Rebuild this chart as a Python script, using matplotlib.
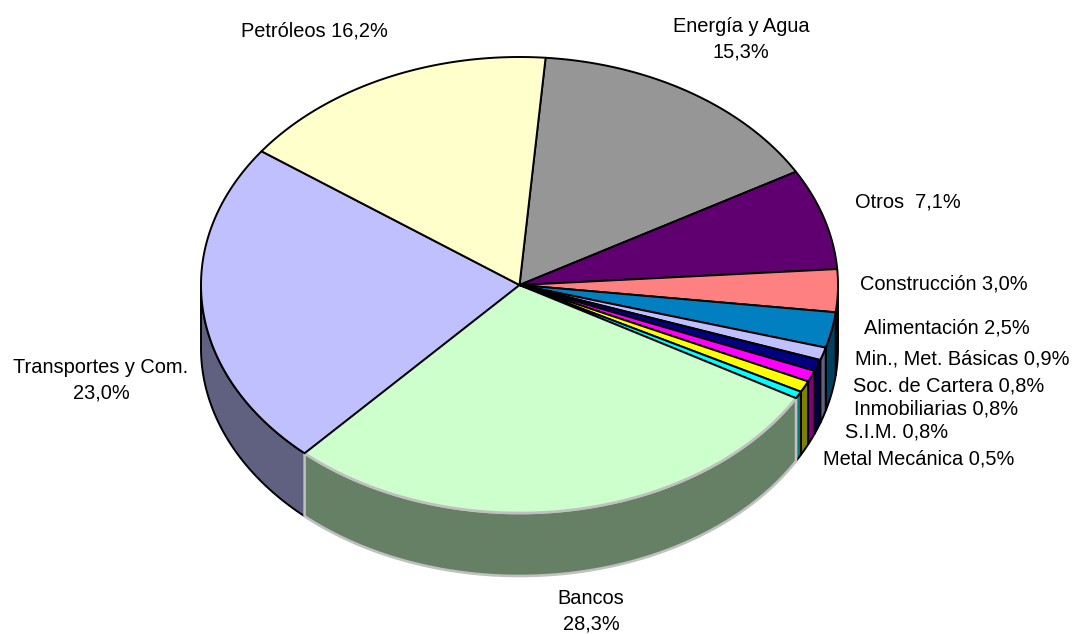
import numpy as np
import matplotlib
matplotlib.use("Agg")
import matplotlib.pyplot as plt

# clockwise, starting from the Energia / Petroleos boundary
names = ["Energía y Agua", "Otros", "Construcción", "Alimentación", "Min., Met. Básicas",
         "Soc. de Cartera", "Inmobiliarias", "S.I.M.", "Metal Mecánica", "Bancos",
         "Transportes y Com.", "Petróleos"]
values = [15.3, 7.1, 3.0, 2.5, 0.9, 0.8, 0.8, 0.8, 0.5, 28.3, 23.0, 16.2]
colors = ["#969696", "#600070", "#FF8080", "#0080C0", "#C0C0FF", "#000080",
          "#FF00FF", "#FFFF00", "#00FFFF", "#CCFFCC", "#C0C0FF", "#FFFFCC"]
edges = ["black"] * 9 + ["#C0C0C0"] + ["black"] * 2
labels = ["Energía y Agua\n15,3%", "Otros  7,1%", "Construcción 3,0%", "Alimentación 2,5%",
          "Min., Met. Básicas 0,9%", "Soc. de Cartera 0,8%", "Inmobiliarias 0,8%", "S.I.M. 0,8%",
          "Metal Mecánica 0,5%", "Bancos\n28,3%", "Transportes y Com.\n23,0%", "Petróleos 16,2%"]
label_xy = [(741, 39), (908, 202), (944, 284), (947, 328), (962, 359), (949, 386), (936, 409),
            (897, 432), (919, 459), (591, 611), (101, 380), (314, 31)]

cx, cy, rx, ry, depth = 519.5, 285, 318.5, 228, 63
start = 4.7


def rim(t, dy=0):
    r = np.radians(t)
    return cx + rx * np.sin(r), cy - ry * np.cos(r) + dy


fig = plt.figure(figsize=(10.74, 6.34), dpi=100)
ax = fig.add_axes([0, 0, 1, 1])
ax.set_xlim(0, 1074)
ax.set_ylim(634, 0)
ax.axis("off")

ang = start + np.concatenate([[0], np.cumsum(values)]) / sum(values) * 360

# side walls first, only the front half of the pie shows them
for i in range(len(values)):
    a, b = max(ang[i], 90), min(ang[i + 1], 270)
    if a >= b:
        continue
    t = np.linspace(a, b, 200)
    x, y = rim(t)
    x2, y2 = rim(t[::-1], depth)
    side = np.array(matplotlib.colors.to_rgb(colors[i])) * 0.5
    ax.fill(np.r_[x, x2], np.r_[y, y2], facecolor=side, edgecolor=edges[i],
            lw=1.9 if i == 9 else 1.4, zorder=2 + (i == 9))

# top faces
for i in range(len(values)):
    t = np.linspace(ang[i], ang[i + 1], 200)
    x, y = rim(t)
    ax.fill(np.r_[cx, x], np.r_[cy, y], facecolor=colors[i], edgecolor=edges[i],
            lw=1.9 if i == 9 else 1.4, zorder=4 + (i != 9), joinstyle="round")

for (lx, ly), s in zip(label_xy, labels):
    ax.text(lx, ly, s, ha="center", va="center", fontsize=14.4, family="Liberation Sans",
            color="black", linespacing=1.42, zorder=8)

fig.savefig("out.png", dpi=100)
